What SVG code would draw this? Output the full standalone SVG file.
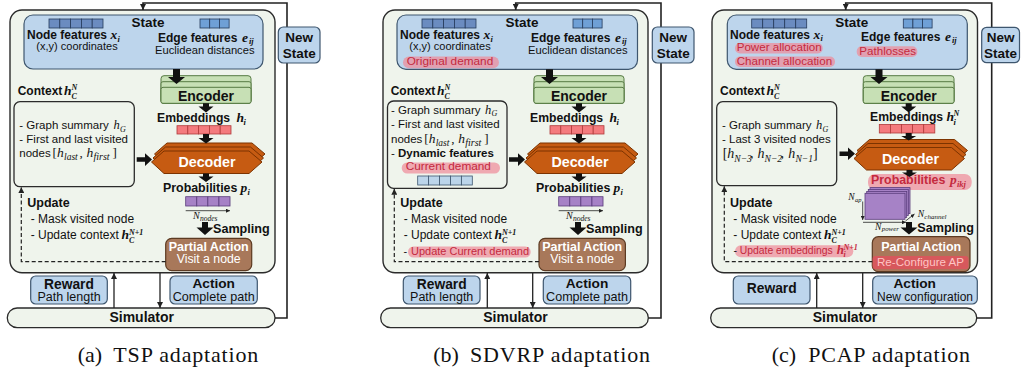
<svg xmlns="http://www.w3.org/2000/svg" width="1021" height="373" viewBox="0 0 1021 373">
<style>
.t{font-family:"Liberation Sans",Arial,sans-serif;fill:#111}
.b{font-weight:bold}
.m{font-family:"Liberation Serif","Times New Roman",serif;font-style:italic;fill:#111}
.mb{font-family:"Liberation Serif","Times New Roman",serif;font-style:italic;font-weight:bold;fill:#111}
.s{font-family:"Liberation Serif","Times New Roman",serif;fill:#111}
.cap{font-family:"Liberation Serif","Times New Roman",serif;font-size:22px;fill:#111}
.red{fill:#c42a3e}
.w{fill:#fff}
.pink{fill:#ffc4c4}
.mid{text-anchor:middle}
.outer{fill:#eff4ec;stroke:#2b2b2b;stroke-width:1.4}
.state{fill:#bdd5ec;stroke:#3e566e;stroke-width:1.2}
.nc{fill:#6b8cc0;stroke:#253a5a;stroke-width:0.8}
.ec{fill:#6fa0d6;stroke:#253a5a;stroke-width:0.8}
.enc{fill:#c7e0b5;stroke:#567a43;stroke-width:1}
.emb{fill:#f47b7e;stroke:#b03a3a;stroke-width:0.8}
.dec{fill:#c65b12;stroke:#7c3300;stroke-width:1}
.pc{fill:#a682c6;stroke:#5a3c7c;stroke-width:0.8}
.cc{fill:#bcd5ea;stroke:#3e566e;stroke-width:0.8}
.ctx{fill:#eff4ec;stroke:#2b2b2b;stroke-width:1.3}
.pa{fill:#a8785a;stroke:#5c3a22;stroke-width:1.2}
.rw{fill:#bdd5ec;stroke:#3e566e;stroke-width:1.2}
.sim{fill:#eff4ec;stroke:#2b2b2b;stroke-width:1.3}
.hl{fill:#ee8c9a;opacity:0.72}
.hl2{fill:#e2505c;opacity:0.8}
.blk{fill:#111;stroke:none}
.ln{fill:none;stroke:#222;stroke-width:1.3}
.fb{fill:none;stroke:#222;stroke-width:1.6}
.dash{fill:none;stroke:#222;stroke-width:1.2;stroke-dasharray:4 2.5}
.thin{fill:none;stroke:#222;stroke-width:0.8}
</style>
<defs>
<marker id="ah" viewBox="0 0 10 10" refX="10" refY="5" markerWidth="6" markerHeight="6" markerUnits="userSpaceOnUse" orient="auto"><path d="M0,0 L10,5 L0,10 z" fill="#222"/></marker>
<marker id="ahs" viewBox="0 0 10 10" refX="10" refY="5" markerWidth="4" markerHeight="4" markerUnits="userSpaceOnUse" orient="auto"><path d="M0,0 L10,5 L0,10 z" fill="#222"/></marker>
<polygon id="decshape" points="151.5,162 164,151 249,151 262,162 249,173.5 164,173.5"/>
</defs>

<!-- ============ PANEL A ============ -->
<g id="panel-a">
<g id="a-agent"><rect class="outer" x="10" y="10" width="265" height="262.7" rx="12"/></g>
<g id="a-state">
 <rect class="state" x="24" y="15" width="239" height="54" rx="9"/>
 <rect class="nc" x="49" y="19" width="10.8" height="9"/><rect class="nc" x="59.8" y="19" width="10.8" height="9"/><rect class="nc" x="70.6" y="19" width="10.8" height="9"/><rect class="nc" x="81.4" y="19" width="10.8" height="9"/><rect class="nc" x="92.2" y="19" width="10.8" height="9"/>
 <rect class="ec" x="200" y="19" width="9.7" height="9"/><rect class="ec" x="209.7" y="19" width="9.7" height="9"/><rect class="ec" x="219.4" y="19" width="9.7" height="9"/>
 <text class="t b mid" x="148" y="27" font-size="13.5">State</text>
 <text class="t b" x="27" y="38.8" font-size="12">Node features</text>
 <text class="mb" x="110.5" y="38.8" font-size="13.5">x</text>
 <text class="mb" x="117.5" y="41.5" font-size="8.5">i</text>
 <text class="t mid" x="77" y="50.3" font-size="11">(x,y) coordinates</text>
 <text class="t b" x="158" y="41.7" font-size="12">Edge features</text>
 <text class="mb" x="242" y="41.7" font-size="13.5">e</text>
 <text class="mb" x="249" y="43.6" font-size="8.5">ij</text>
 <text class="t" x="155" y="54" font-size="11.2">Euclidean distances</text>
</g>
<g id="a-encoder">
 <rect class="enc" x="161" y="75.7" width="90" height="27.6" rx="3"/>
 <rect class="enc" x="161" y="81.7" width="90" height="21.6" rx="2"/>
 <rect class="enc" x="161" y="87.3" width="90" height="16" rx="2"/>
 <text class="t b mid" x="206" y="100.7" font-size="14">Encoder</text>
</g>
<g id="a-embeddings">
 <text class="t b" x="157" y="121.7" font-size="12.2">Embeddings</text>
 <text class="mb" x="236.5" y="121.7" font-size="13.5">h</text>
 <text class="mb" x="243.5" y="124.5" font-size="8.5">i</text>
 <rect class="emb" x="177" y="125.7" width="10.8" height="8.3"/><rect class="emb" x="187.8" y="125.7" width="10.8" height="8.3"/><rect class="emb" x="198.6" y="125.7" width="10.8" height="8.3"/><rect class="emb" x="209.4" y="125.7" width="10.8" height="8.3"/><rect class="emb" x="220.2" y="125.7" width="10.8" height="8.3"/>
</g>
<g id="a-context">
 <text class="t b" x="17.7" y="95" font-size="12">Context</text>
 <text class="mb" x="64" y="95" font-size="13.5">h</text>
 <text class="mb" x="71.5" y="90" font-size="8">N</text>
 <text class="mb" x="71.5" y="98.5" font-size="8">C</text>
 <rect class="ctx" x="14" y="101.7" width="120.3" height="85" rx="6"/>
 <text class="t" x="19.3" y="129.3" font-size="11.5">- Graph summary</text>
 <text class="m" x="113.5" y="129.3" font-size="12.5">h</text>
 <text class="m" x="120" y="132" font-size="8">G</text>
 <text class="t" x="19.3" y="143.3" font-size="11.5">- First and last visited</text>
 <text class="t" x="19.3" y="156.7" font-size="11.5">nodes</text>
 <text class="s" x="52.5" y="156.7" font-size="13">[</text>
 <text class="m" x="57" y="156.7" font-size="13.5">h</text>
 <text class="m" x="64" y="159.7" font-size="9.5">last</text>
 <text class="s" x="79.5" y="156.7" font-size="13">,</text>
 <text class="m" x="86.5" y="156.7" font-size="13.5">h</text>
 <text class="m" x="93.5" y="159.7" font-size="10">first</text>
 <text class="s" x="112.5" y="156.7" font-size="13">]</text>
</g>
<g id="a-decoder">
 <use href="#decshape" class="dec" transform="translate(3,-8)"/>
 <use href="#decshape" class="dec" transform="translate(1.5,-4)"/>
 <use href="#decshape" class="dec"/>
 <text class="t b w mid" x="207" y="167" font-size="14.3">Decoder</text>
</g>
<g id="a-probabilities">
 <text class="t b" x="163" y="191.7" font-size="12.4">Probabilities</text>
 <text class="mb" x="240.5" y="191.7" font-size="13.5">p</text>
 <text class="mb" x="247.5" y="194.5" font-size="8.5">i</text>
 <rect class="pc" x="185.7" y="196.7" width="11.08" height="9.3"/><rect class="pc" x="196.78" y="196.7" width="11.08" height="9.3"/><rect class="pc" x="207.86" y="196.7" width="11.08" height="9.3"/><rect class="pc" x="218.94" y="196.7" width="11.08" height="9.3"/>
 <text class="m" x="193" y="218.5" font-size="10">N</text>
 <text class="m" x="200" y="220.5" font-size="7.5">nodes</text>
 <text class="t b" x="213" y="232.7" font-size="12.6">Sampling</text>
</g>
<g id="a-update">
 <text class="t b" x="27.3" y="207.3" font-size="12.5">Update</text>
 <text class="t" x="30.7" y="223.3" font-size="12">- Mask visited node</text>
 <text class="t" x="30.7" y="239.3" font-size="12">- Update context</text>
 <text class="mb" x="121.5" y="239.3" font-size="13.5">h</text>
 <text class="mb" x="129" y="234.5" font-size="8">N+1</text>
 <text class="mb" x="129" y="242.5" font-size="8">C</text>
</g>
<g id="a-partial-action">
 <rect class="pa" x="165.7" y="238.3" width="86" height="32.4" rx="6"/>
 <text class="t b w mid" x="208.7" y="250.5" font-size="12.5">Partial Action</text>
 <text class="t w mid" x="208.7" y="263" font-size="12.3">Visit a node</text>
</g>
<g id="a-reward">
 <rect class="rw" x="30.7" y="276" width="76.6" height="28" rx="5"/>
 <text class="t b mid" x="69" y="288.7" font-size="13.8">Reward</text>
 <text class="t mid" x="69" y="301" font-size="12.5">Path length</text>
</g>
<g id="a-action">
 <rect class="rw" x="170" y="276" width="87.3" height="28" rx="5"/>
 <text class="t b mid" x="213.7" y="287.5" font-size="13.7">Action</text>
 <text class="t mid" x="213.7" y="301" font-size="12.6">Complete path</text>
</g>
<g id="a-simulator">
 <rect class="sim" x="7.3" y="308" width="267.7" height="19.7" rx="9.8"/>
 <text class="t b mid" x="141.7" y="322" font-size="14">Simulator</text>
</g>
<g id="a-connectors">
 <polygon class="blk" points="173,69 180,69 180,77 185,77 176.5,84 168,77 173,77"/>
 <polygon class="blk" points="203,103.3 209,103.3 209,106.5 213.5,106.5 206,112.5 198.5,106.5 203,106.5"/>
 <polygon class="blk" points="203,134 209,134 209,138 213.5,138 206,143.5 198.5,138 203,138"/>
 <polygon class="blk" points="203,173.5 209,173.5 209,176.5 213.5,176.5 206,182 198.5,176.5 203,176.5"/>
 <polygon class="blk" points="202,222 208,222 208,227.5 213.5,227.5 205,235 196.5,227.5 202,227.5"/>
 <polygon class="blk" points="136.7,157.3 145,157.3 145,153.3 152,159.5 145,166 145,161.7 136.7,161.7"/>
 <polyline class="fb" points="275,318 287,318 287,3 143,3 143,10" marker-end="url(#ah)"/>
 <line class="ln" x1="114" y1="308" x2="114" y2="273" marker-end="url(#ah)"/>
 <line class="ln" x1="160" y1="273" x2="160" y2="308" marker-end="url(#ah)"/>
 <polyline class="dash" points="165.7,261.7 21.3,261.7 21.3,187.2" marker-end="url(#ah)"/>
 <line class="thin" x1="185.7" y1="210.7" x2="230" y2="210.7" marker-end="url(#ahs)"/>
</g>
<g id="a-new-state">
 <rect class="rw" x="278.3" y="27" width="41.7" height="36" rx="5"/>
 <text class="t b mid" x="299.2" y="42" font-size="13.5">New</text>
 <text class="t b mid" x="299.2" y="58" font-size="13.5">State</text>
</g>
<text class="cap" x="77.7" y="361.7">(a)</text>
<text class="cap" x="113.3" y="361.7" textLength="145" lengthAdjust="spacing">TSP adaptation</text>
</g>

<!-- ============ PANEL B ============ -->
<g id="panel-b" transform="translate(373,0)">
<g id="b-agent"><rect class="outer" x="10" y="10" width="265" height="262.7" rx="12"/></g>
<g id="b-state">
 <rect class="state" x="24" y="15" width="240.5" height="54.3" rx="9"/>
 <rect class="nc" x="49" y="19" width="10.8" height="9"/><rect class="nc" x="59.8" y="19" width="10.8" height="9"/><rect class="nc" x="70.6" y="19" width="10.8" height="9"/><rect class="nc" x="81.4" y="19" width="10.8" height="9"/><rect class="nc" x="92.2" y="19" width="10.8" height="9"/>
 <rect class="ec" x="200" y="19" width="9.7" height="9"/><rect class="ec" x="209.7" y="19" width="9.7" height="9"/><rect class="ec" x="219.4" y="19" width="9.7" height="9"/>
 <text class="t b mid" x="149" y="27" font-size="13.5">State</text>
 <text class="t b" x="27" y="38.8" font-size="12">Node features</text>
 <text class="mb" x="110.5" y="38.8" font-size="13.5">x</text>
 <text class="mb" x="117.5" y="41.5" font-size="8.5">i</text>
 <text class="t mid" x="77" y="50.3" font-size="11">(x,y) coordinates</text>
 <rect class="hl" x="30" y="56.5" width="96" height="11.8" rx="5.9"/>
 <text class="t red" x="33.7" y="64.5" font-size="11.8">Original demand</text>
 <text class="t b" x="158" y="41.7" font-size="12">Edge features</text>
 <text class="mb" x="242" y="41.7" font-size="13.5">e</text>
 <text class="mb" x="249" y="43.6" font-size="8.5">ij</text>
 <text class="t" x="155" y="54" font-size="11.2">Euclidean distances</text>
</g>
<g id="b-encoder">
 <rect class="enc" x="161" y="75.7" width="90" height="27.6" rx="3"/>
 <rect class="enc" x="161" y="81.7" width="90" height="21.6" rx="2"/>
 <rect class="enc" x="161" y="87.3" width="90" height="16" rx="2"/>
 <text class="t b mid" x="206" y="100.7" font-size="14">Encoder</text>
</g>
<g id="b-embeddings">
 <text class="t b" x="157" y="121.7" font-size="12.2">Embeddings</text>
 <text class="mb" x="236.5" y="121.7" font-size="13.5">h</text>
 <text class="mb" x="243.5" y="124.5" font-size="8.5">i</text>
 <rect class="emb" x="177" y="125.7" width="10.8" height="8.3"/><rect class="emb" x="187.8" y="125.7" width="10.8" height="8.3"/><rect class="emb" x="198.6" y="125.7" width="10.8" height="8.3"/><rect class="emb" x="209.4" y="125.7" width="10.8" height="8.3"/><rect class="emb" x="220.2" y="125.7" width="10.8" height="8.3"/>
</g>
<g id="b-context">
 <text class="t b" x="17.7" y="95" font-size="12">Context</text>
 <text class="mb" x="64" y="95" font-size="13.5">h</text>
 <text class="mb" x="71.5" y="90" font-size="8">N</text>
 <text class="mb" x="71.5" y="98.5" font-size="8">C</text>
 <rect class="ctx" x="14.5" y="101" width="119.5" height="87.3" rx="6"/>
 <text class="t" x="18" y="113.5" font-size="11.5">- Graph summary</text>
 <text class="m" x="112" y="113.5" font-size="12.5">h</text>
 <text class="m" x="118.5" y="116.2" font-size="8">G</text>
 <text class="t" x="18" y="128" font-size="11.5">- First and last visited</text>
 <text class="t" x="18" y="142.7" font-size="11.5">nodes</text>
 <text class="s" x="51.2" y="142.7" font-size="13">[</text>
 <text class="m" x="55.7" y="142.7" font-size="13.5">h</text>
 <text class="m" x="62.7" y="145.7" font-size="9.5">last</text>
 <text class="s" x="78.2" y="142.7" font-size="13">,</text>
 <text class="m" x="85.2" y="142.7" font-size="13.5">h</text>
 <text class="m" x="92.2" y="145.7" font-size="10">first</text>
 <text class="s" x="111.2" y="142.7" font-size="13">]</text>
 <text class="t" x="18" y="157.3" font-size="11.5">- <tspan class="b">Dynamic features</tspan></text>
 <rect class="hl" x="28.7" y="162.5" width="98.3" height="11" rx="5.5"/>
 <text class="t red" x="32.7" y="170.3" font-size="11.8">Current demand</text>
 <rect class="cc" x="44.7" y="176" width="10.92" height="9"/><rect class="cc" x="55.62" y="176" width="10.92" height="9"/><rect class="cc" x="66.54" y="176" width="10.92" height="9"/><rect class="cc" x="77.46" y="176" width="10.92" height="9"/><rect class="cc" x="88.38" y="176" width="10.92" height="9"/>
</g>
<g id="b-decoder">
 <use href="#decshape" class="dec" transform="translate(3,-8)"/>
 <use href="#decshape" class="dec" transform="translate(1.5,-4)"/>
 <use href="#decshape" class="dec"/>
 <text class="t b w mid" x="207" y="167" font-size="14.3">Decoder</text>
</g>
<g id="b-probabilities">
 <text class="t b" x="163" y="191.7" font-size="12.4">Probabilities</text>
 <text class="mb" x="240.5" y="191.7" font-size="13.5">p</text>
 <text class="mb" x="247.5" y="194.5" font-size="8.5">i</text>
 <rect class="pc" x="185.7" y="196.7" width="11.08" height="9.3"/><rect class="pc" x="196.78" y="196.7" width="11.08" height="9.3"/><rect class="pc" x="207.86" y="196.7" width="11.08" height="9.3"/><rect class="pc" x="218.94" y="196.7" width="11.08" height="9.3"/>
 <text class="m" x="193" y="218.5" font-size="10">N</text>
 <text class="m" x="200" y="220.5" font-size="7.5">nodes</text>
 <text class="t b" x="213" y="232.7" font-size="12.6">Sampling</text>
</g>
<g id="b-update">
 <text class="t b" x="27.3" y="207.3" font-size="12.5">Update</text>
 <text class="t" x="30.7" y="223.3" font-size="12">- Mask visited node</text>
 <text class="t" x="30.7" y="239.3" font-size="12">- Update context</text>
 <text class="mb" x="121.5" y="239.3" font-size="13.5">h</text>
 <text class="mb" x="129" y="234.5" font-size="8">N+1</text>
 <text class="mb" x="129" y="242.5" font-size="8">C</text>
 <rect class="hl" x="35" y="246.5" width="122.7" height="11" rx="5.5"/>
 <text class="t" x="30.5" y="255" font-size="11">-</text>
 <text class="t red" x="38" y="255" font-size="11">Update Current demand</text>
</g>
<g id="b-partial-action">
 <rect class="pa" x="166" y="238.3" width="86.4" height="32.4" rx="6"/>
 <text class="t b w mid" x="209.2" y="250.5" font-size="12.5">Partial Action</text>
 <text class="t w mid" x="209.2" y="263" font-size="12.3">Visit a node</text>
</g>
<g id="b-reward">
 <rect class="rw" x="30.3" y="276" width="76.7" height="28" rx="5"/>
 <text class="t b mid" x="68.7" y="288.7" font-size="13.8">Reward</text>
 <text class="t mid" x="68.7" y="301" font-size="12.5">Path length</text>
</g>
<g id="b-action">
 <rect class="rw" x="170.3" y="276" width="87.4" height="28" rx="5"/>
 <text class="t b mid" x="214" y="287.5" font-size="13.7">Action</text>
 <text class="t mid" x="214" y="301" font-size="12.6">Complete path</text>
</g>
<g id="b-simulator">
 <rect class="sim" x="7.7" y="308" width="267.6" height="19.7" rx="9.8"/>
 <text class="t b mid" x="142.5" y="322" font-size="14">Simulator</text>
</g>
<g id="b-connectors">
 <polygon class="blk" points="173,69.3 180,69.3 180,77 185,77 176.5,84 168,77 173,77"/>
 <polygon class="blk" points="203,103.3 209,103.3 209,106.5 213.5,106.5 206,112.5 198.5,106.5 203,106.5"/>
 <polygon class="blk" points="203,134 209,134 209,138 213.5,138 206,143.5 198.5,138 203,138"/>
 <polygon class="blk" points="203,173.5 209,173.5 209,176.5 213.5,176.5 206,182 198.5,176.5 203,176.5"/>
 <polygon class="blk" points="202,222 208,222 208,227.5 213.5,227.5 205,235 196.5,227.5 202,227.5"/>
 <polygon class="blk" points="136,157.3 145,157.3 145,153.3 152,159.5 145,166 145,161.7 136,161.7"/>
 <polyline class="fb" points="275.3,318 288,318 288,3 142.7,3 142.7,10" marker-end="url(#ah)"/>
 <line class="ln" x1="114.3" y1="308" x2="114.3" y2="273" marker-end="url(#ah)"/>
 <line class="ln" x1="159.7" y1="273" x2="159.7" y2="308" marker-end="url(#ah)"/>
 <polyline class="dash" points="166,261.7 21.3,261.7 21.3,188.8" marker-end="url(#ah)"/>
 <line class="thin" x1="185.7" y1="210.7" x2="230" y2="210.7" marker-end="url(#ahs)"/>
</g>
<g id="b-new-state">
 <rect class="rw" x="279.3" y="27" width="41.7" height="36" rx="5"/>
 <text class="t b mid" x="300.2" y="42" font-size="13.5">New</text>
 <text class="t b mid" x="300.2" y="58" font-size="13.5">State</text>
</g>
<text class="cap" x="60.3" y="361.7">(b)</text>
<text class="cap" x="97" y="361.7" textLength="180" lengthAdjust="spacing">SDVRP adaptation</text>
</g>

<!-- ============ PANEL C ============ -->
<g id="panel-c" transform="translate(702,0)">
<g id="c-agent"><rect class="outer" x="10" y="10" width="265.5" height="262.7" rx="12"/></g>
<g id="c-state">
 <rect class="state" x="25.3" y="15" width="240" height="54.3" rx="9"/>
 <rect class="nc" x="49.7" y="19" width="11" height="9"/><rect class="nc" x="60.7" y="19" width="11" height="9"/><rect class="nc" x="71.7" y="19" width="11" height="9"/><rect class="nc" x="82.7" y="19" width="11" height="9"/><rect class="nc" x="93.7" y="19" width="11" height="9"/>
 <rect class="ec" x="201.3" y="19" width="9.6" height="9"/><rect class="ec" x="210.9" y="19" width="9.6" height="9"/><rect class="ec" x="220.5" y="19" width="9.6" height="9"/>
 <text class="t b mid" x="149.7" y="27" font-size="13.5">State</text>
 <text class="t b" x="28" y="38.8" font-size="12">Node features</text>
 <text class="mb" x="111.5" y="38.8" font-size="13.5">x</text>
 <text class="mb" x="118.5" y="41" font-size="8.5">i</text>
 <rect class="hl" x="33" y="43" width="87.7" height="10.5" rx="5"/>
 <text class="t red" x="34.7" y="51.2" font-size="11.6">Power allocation</text>
 <rect class="hl" x="33" y="56.5" width="100" height="10.5" rx="5"/>
 <text class="t red" x="34.7" y="64.5" font-size="11.6">Channel allocation</text>
 <text class="t b" x="159" y="41" font-size="12">Edge features</text>
 <text class="mb" x="243" y="41" font-size="13.5">e</text>
 <text class="mb" x="250" y="42.9" font-size="8.5">ij</text>
 <rect class="hl" x="154.7" y="46.3" width="60.6" height="10.7" rx="5"/>
 <text class="t red" x="157.3" y="54.5" font-size="11.6">Pathlosses</text>
</g>
<g id="c-encoder">
 <rect class="enc" x="161.3" y="75.7" width="90.7" height="27.6" rx="3"/>
 <rect class="enc" x="161.3" y="81.7" width="90.7" height="21.6" rx="2"/>
 <rect class="enc" x="161.3" y="87.3" width="90.7" height="16" rx="2"/>
 <text class="t b mid" x="206.7" y="100.7" font-size="14">Encoder</text>
</g>
<g id="c-embeddings">
 <text class="t b" x="168" y="121.2" font-size="12.2">Embeddings</text>
 <text class="mb" x="244.5" y="121.2" font-size="13.5">h</text>
 <text class="mb" x="251.5" y="116.3" font-size="8">N</text>
 <text class="mb" x="251.5" y="124.5" font-size="8.5">i</text>
 <rect class="emb" x="177.3" y="124.5" width="11.1" height="8.5"/><rect class="emb" x="188.4" y="124.5" width="11.1" height="8.5"/><rect class="emb" x="199.5" y="124.5" width="11.1" height="8.5"/><rect class="emb" x="210.6" y="124.5" width="11.1" height="8.5"/><rect class="emb" x="221.7" y="124.5" width="11.1" height="8.5"/>
</g>
<g id="c-context">
 <text class="t b" x="18" y="95" font-size="12">Context</text>
 <text class="mb" x="64.5" y="95" font-size="13.5">h</text>
 <text class="mb" x="72" y="90" font-size="8">N</text>
 <text class="mb" x="72" y="98.5" font-size="8">C</text>
 <rect class="ctx" x="14.7" y="101.7" width="120" height="84" rx="6"/>
 <text class="t" x="20" y="129" font-size="11.5">- Graph summary</text>
 <text class="m" x="114" y="129" font-size="12.5">h</text>
 <text class="m" x="120.5" y="131.7" font-size="8">G</text>
 <text class="t" x="20" y="143.3" font-size="11.5">- Last 3 visited nodes</text>
 <text class="s" x="20.7" y="158.3" font-size="14">[</text>
 <text class="m" x="25.2" y="158.3" font-size="14">h</text>
 <text class="m" x="32.3" y="161.5" font-size="9.5">N−3</text>
 <text class="s" x="48" y="158.3" font-size="14">,</text>
 <text class="m" x="55.5" y="158.3" font-size="14">h</text>
 <text class="m" x="62.6" y="161.5" font-size="9.5">N−2</text>
 <text class="s" x="78.5" y="158.3" font-size="14">,</text>
 <text class="m" x="86.3" y="158.3" font-size="14">h</text>
 <text class="m" x="93.4" y="161.5" font-size="9.5">N−1</text>
 <text class="s" x="111" y="158.3" font-size="14">]</text>
</g>
<g id="c-decoder" transform="translate(0.5,-3.5)">
 <use href="#decshape" class="dec" transform="translate(3,-8)"/>
 <use href="#decshape" class="dec" transform="translate(1.5,-4)"/>
 <use href="#decshape" class="dec"/>
 <text class="t b w mid" x="208" y="167" font-size="14.3">Decoder</text>
</g>
<g id="c-probabilities">
 <rect class="hl" x="166" y="174" width="103.7" height="16" rx="7"/>
 <text class="t b red" x="169" y="184.3" font-size="12.4">Probabilities</text>
 <text class="mb red" x="248" y="184.3" font-size="13.5">p</text>
 <text class="mb red" x="255" y="187.2" font-size="8.5">ikj</text>
 <rect class="pc" x="168" y="187.6" width="40" height="26"/>
 <rect class="pc" x="166.3" y="189.5" width="40" height="26"/>
 <rect class="pc" x="164.7" y="191.4" width="40" height="26"/>
 <rect class="pc" x="163" y="193.3" width="40" height="26"/>
 <text class="m" x="146.3" y="200" font-size="9.5">N</text>
 <text class="m" x="153" y="202" font-size="6.5">ap</text>
 <line class="thin" x1="160.7" y1="201.5" x2="160.7" y2="220" marker-end="url(#ahs)"/>
 <line class="thin" x1="161" y1="222.3" x2="204" y2="222.3" marker-end="url(#ahs)"/>
 <text class="m" x="173" y="229.5" font-size="9.5">N</text>
 <text class="m" x="179.8" y="231.2" font-size="6.8">power</text>
 <line class="thin" x1="203.5" y1="221" x2="212.5" y2="214" marker-end="url(#ahs)"/>
 <text class="m" x="215.7" y="216.7" font-size="9.5">N</text>
 <text class="m" x="222.3" y="218.5" font-size="7">channel</text>
 <text class="t b" x="215.3" y="231.7" font-size="12.6">Sampling</text>
</g>
<g id="c-update">
 <text class="t b" x="28" y="207.3" font-size="12.5">Update</text>
 <text class="t" x="31.3" y="223.3" font-size="12">- Mask visited node</text>
 <text class="t" x="31.3" y="239.3" font-size="12">- Update context</text>
 <text class="mb" x="122" y="239.3" font-size="13.5">h</text>
 <text class="mb" x="129.5" y="234.5" font-size="8">N+1</text>
 <text class="mb" x="129.5" y="242.5" font-size="8">C</text>
 <rect class="hl" x="33" y="245.3" width="118.3" height="12" rx="6"/>
 <text class="t" x="31.5" y="254" font-size="10.5">-</text>
 <text class="t red" x="37.7" y="254" font-size="10.4">Update embeddings</text>
 <text class="mb red" x="134.7" y="254" font-size="13">h</text>
 <text class="mb red" x="141.5" y="249.5" font-size="8">N+1</text>
 <text class="mb red" x="141.5" y="257" font-size="8">i</text>
</g>
<g id="c-partial-action">
 <rect class="pa" x="170.3" y="236.7" width="97.7" height="35" rx="6"/>
 <rect class="hl2" x="170.5" y="256" width="96" height="13.3" rx="3"/>
 <text class="t b w mid" x="219.2" y="250.7" font-size="12.5">Partial Action</text>
 <text class="t pink mid" x="218.5" y="265.8" font-size="11.6">Re-Configure AP</text>
</g>
<g id="c-reward">
 <rect class="rw" x="31.3" y="276" width="76.7" height="28" rx="5"/>
 <text class="t b mid" x="69.7" y="293.3" font-size="13.8">Reward</text>
</g>
<g id="c-action">
 <rect class="rw" x="170.7" y="276" width="104.6" height="28" rx="5"/>
 <text class="t b mid" x="212.7" y="287.5" font-size="13.7">Action</text>
 <text class="t mid" x="223" y="301" font-size="12">New configuration</text>
</g>
<g id="c-simulator">
 <rect class="sim" x="8.7" y="308" width="266" height="19.7" rx="9.8"/>
 <text class="t b mid" x="143" y="322" font-size="14">Simulator</text>
</g>
<g id="c-connectors">
 <polygon class="blk" points="173.5,69.3 180.5,69.3 180.5,77 185.5,77 177,84 168.5,77 173.5,77"/>
 <polygon class="blk" points="203.7,103.3 209.7,103.3 209.7,106.5 214.2,106.5 206.7,112.5 199.2,106.5 203.7,106.5"/>
 <polygon class="blk" points="203.7,133 209.7,133 209.7,136 214.2,136 206.7,140.5 199.2,136 203.7,136"/>
 <polygon class="blk" points="204.5,170 210.5,170 210.5,172.5 215,172.5 207.5,177 200,172.5 204.5,172.5"/>
 <polygon class="blk" points="204,222 210,222 210,227.5 215.5,227.5 207,234.5 198.5,227.5 204,227.5"/>
 <polygon class="blk" points="137.5,151.5 146,151.5 146,147.5 153,153.8 146,160 146,156 137.5,156"/>
 <polyline class="fb" points="274.7,318 289.7,318 289.7,3 143.7,3 143.7,10" marker-end="url(#ah)"/>
 <line class="ln" x1="114.7" y1="308" x2="114.7" y2="273" marker-end="url(#ah)"/>
 <line class="ln" x1="160.7" y1="273" x2="160.7" y2="308" marker-end="url(#ah)"/>
 <polyline class="dash" points="170.3,261.7 22.3,261.7 22.3,186.2" marker-end="url(#ah)"/>
</g>
<g id="c-new-state">
 <rect class="rw" x="279.7" y="27.3" width="37.8" height="35.4" rx="5"/>
 <text class="t b mid" x="298.6" y="42" font-size="13.5">New</text>
 <text class="t b mid" x="298.6" y="58" font-size="13.5">State</text>
</g>
<text class="cap" x="69.7" y="361.7">(c)</text>
<text class="cap" x="106.3" y="361.7" textLength="161.7" lengthAdjust="spacing">PCAP adaptation</text>
</g>
</svg>
